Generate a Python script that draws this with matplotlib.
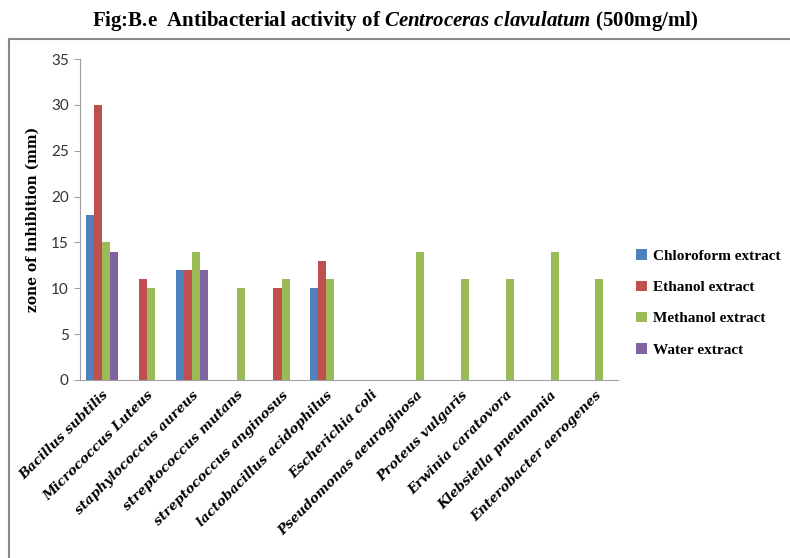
import matplotlib.pyplot as plt
import numpy as np
from matplotlib.lines import Line2D

# bacteria on the x axis
bacteria = ["Bacillus subtilis", "Micrococcus Luteus", "staphylococcus aureus",
            "streptococcus mutans", "streptococcus anginosus", "lactobacillus acidophilus",
            "Escherichia coli", "Pseudomonas aeuroginosa", "Proteus vulgaris",
            "Erwinia caratovora", "Klebsiella pneumonia", "Enterobacter aerogenes"]

# zone of inhibition (mm) per extract
chloroform = [18, 0, 12, 0, 0, 10, 0, 0, 0, 0, 0, 0]
ethanol = [30, 11, 12, 0, 10, 13, 0, 0, 0, 0, 0, 0]
methanol = [15, 10, 14, 10, 11, 11, 0, 14, 11, 11, 14, 11]
water = [14, 0, 12, 0, 0, 0, 0, 0, 0, 0, 0, 0]

series = ["Chloroform extract", "Ethanol extract", "Methanol extract", "Water extract"]
colors = ["#4F81BD", "#C0504D", "#9BBB59", "#8064A2"]


def main():
    plt.rcParams["mathtext.fontset"] = "custom"
    plt.rcParams["mathtext.it"] = "Liberation Serif:italic:bold"
    plt.rcParams["mathtext.rm"] = "Liberation Serif:bold"

    fig = plt.figure(figsize=(7.9, 5.58), dpi=100)
    ax = fig.add_axes([0.101, 0.319, 0.681, 0.575])

    # frame of the chart area (only top and left visible in reference)
    fig.add_artist(Line2D([0.011, 1.0], [0.930, 0.930], color="#888888", lw=1.5))
    fig.add_artist(Line2D([0.011, 0.011], [0.0, 0.930], color="#888888", lw=1.5))

    x = np.arange(len(bacteria))
    w = 0.18
    data = [chloroform, ethanol, methanol, water]
    for i, (vals, c, name) in enumerate(zip(data, colors, series)):
        ax.bar(x + (i - 1.5) * w, vals, width=w, color=c, label=name)

    ax.set_xlim(-0.5, len(bacteria) - 0.5)
    ax.set_ylim(0, 35)
    ax.set_yticks(range(0, 36, 5))
    for t in ax.get_yticklabels():
        t.set_fontfamily("Lato")
        t.set_fontsize(11)
        t.set_color("#333333")

    ax.set_xticks(x)
    ax.set_xticklabels(bacteria, rotation=45, ha="right", rotation_mode="anchor",
                       fontfamily="DejaVu Serif", fontweight="bold", fontstyle="italic",
                       fontsize=9.5)
    ax.tick_params(axis="x", length=0, pad=6)
    ax.tick_params(axis="y", length=4, color="#A0A0A0", pad=4)

    for s in ["top", "right"]:
        ax.spines[s].set_visible(False)
    ax.spines["left"].set_color("#A0A0A0")
    ax.spines["bottom"].set_color("#A0A0A0")

    ax.set_ylabel("zone of inhibition (mm)", fontfamily="DejaVu Serif",
                  fontweight="bold", fontsize=10, labelpad=8)

    fig.text(0.5, 0.963, r"Fig:B.e  Antibacterial activity of $Centroceras\ clavulatum$ (500mg/ml)",
             ha="center", va="center", fontfamily="Liberation Serif", fontweight="bold",
             fontsize=15)

    ax.legend(loc="center left", bbox_to_anchor=(1.0, 0.24), frameon=False,
              prop={"family": "Liberation Serif", "weight": "bold", "size": 11},
              handlelength=0.7, handleheight=0.7, handletextpad=0.4, labelspacing=1.15,
              borderaxespad=0.8)

    fig.savefig("out.png", dpi=100)


if __name__ == "__main__":
    main()
